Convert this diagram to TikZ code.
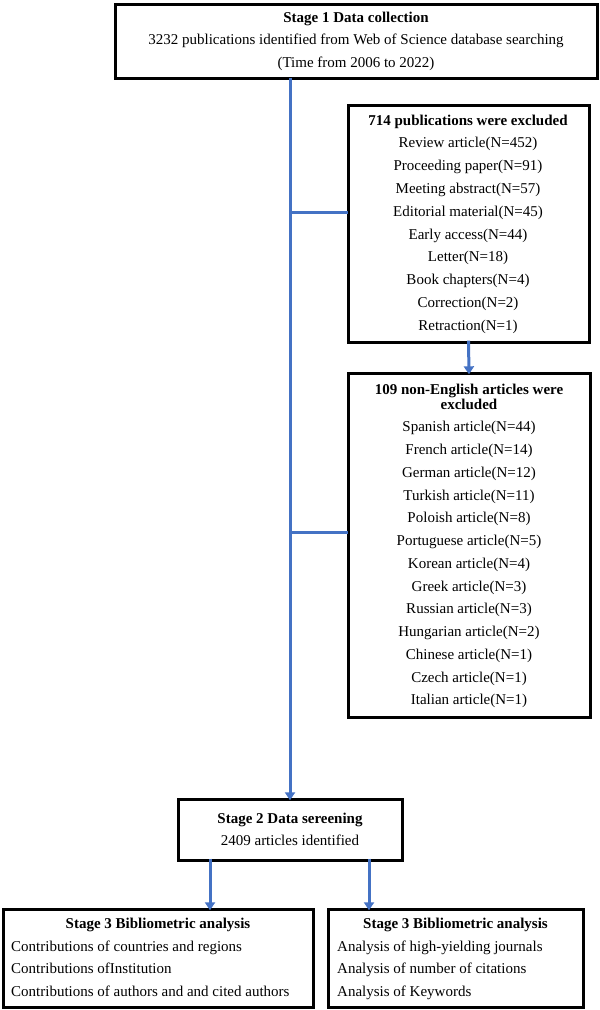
\documentclass[tikz,border=0pt]{standalone}
\usepackage{fontspec}
\setmainfont{Liberation Serif}
\usetikzlibrary{arrows.meta}
\definecolor{flowblue}{RGB}{68,114,196}
\tikzset{
  boxframe/.style={draw=black,line width=3pt,fill=white},
  txt/.style={align=center,inner sep=0pt,anchor=north},
  link/.style={draw=flowblue,line width=3pt},
  arr/.style={link,-{Triangle[width=10pt,length=8pt]}}
}
\begin{document}
\begin{tikzpicture}[x=1pt,y=-1pt]
\useasboundingbox (0,0) rectangle (600,1010);
% boxes
\path[boxframe] (115,4) rectangle (597,78);
\coordinate (s1b) at (290,78);
\path[boxframe] (348,105) rectangle (589,342);
\path[boxframe] (348,373) rectangle (590,717);
\path[boxframe] (178,799) rectangle (402,860);
\path[boxframe] (3,909) rectangle (313,1007);
\path[boxframe] (328,909) rectangle (583,1007);
% nodes for anchors
\node[inner sep=0pt,minimum width=482,minimum height=74] (s1) at (356,41) {};
\node[inner sep=0pt,minimum width=241,minimum height=237] (ex1) at (468.5,223.5) {};
\node[inner sep=0pt,minimum width=242,minimum height=344] (ex2) at (469,545) {};
\node[inner sep=0pt,minimum width=224,minimum height=61] (s2) at (290,829.5) {};
\node[inner sep=0pt,minimum width=310,minimum height=98] (s3a) at (158,958) {};
\node[inner sep=0pt,minimum width=255,minimum height=98] (s3b) at (455.5,958) {};
% texts
\node[txt,font={\fontsize{15}{22.5}\selectfont}] (t1) at (356,11.5)
 {\textbf{Stage 1 Data collection}\\3232 publications identified from Web of Science database searching\\(Time from 2006 to 2022)};
\node[txt,font={\fontsize{15}{22.8}\selectfont}] (t2) at (468,114.5)
 {\textbf{714 publications were excluded}\\Review article(N=452)\\Proceeding paper(N=91)\\Meeting abstract(N=57)\\Editorial material(N=45)\\Early access(N=44)\\Letter(N=18)\\Book chapters(N=4)\\Correction(N=2)\\Retraction(N=1)};
\node[txt,font={\fontsize{15}{22.75}\selectfont}] (t3) at (469,383.5)
 {\textbf{109 non-English articles were}\\[-7.75pt]\textbf{excluded}\\Spanish article(N=44)\\French article(N=14)\\German article(N=12)\\Turkish article(N=11)\\Poloish article(N=8)\\Portuguese article(N=5)\\Korean article(N=4)\\Greek article(N=3)\\Russian article(N=3)\\Hungarian article(N=2)\\Chinese article(N=1)\\Czech article(N=1)\\Italian article(N=1)};
\node[txt,font={\fontsize{15}{22.5}\selectfont}] (t4) at (290,812.5)
 {\textbf{Stage 2 Data sereening}\\2409 articles identified};
\node[txt,font={\fontsize{15}{22.7}\selectfont}] (t5h) at (158,917.5) {\textbf{Stage 3 Bibliometric analysis}};
\node[txt,align=left,anchor=north west,font={\fontsize{15}{22.7}\selectfont}] (t5) at (11,940.5)
 {Contributions of countries and regions\\Contributions ofInstitution\\Contributions of authors and and cited authors};
\node[txt,font={\fontsize{15}{22.7}\selectfont}] (t6h) at (455.5,917.5) {\textbf{Stage 3 Bibliometric analysis}};
\node[txt,align=left,anchor=north west,font={\fontsize{15}{22.7}\selectfont}] (t6) at (337,940.5)
 {Analysis of high-yielding journals\\Analysis of number of citations\\Analysis of Keywords};
% connectors
\coordinate (j1) at (290,212);
\coordinate (j2) at (290,532);
\draw[arr] (s1.south -| s1b) -- ([yshift=-1.5pt]s2.north -| s1b);
\draw[link] (j1) -- (j1 -| ex1.west);
\draw[link] (j2) -- (j2 -| ex2.west);
\draw[arr] ([yshift=1.5pt]ex1.south) -- ([yshift=-1.5pt]ex2.north);
\draw[arr] ([yshift=1.5pt]s2.south -| 210,0) -- ([yshift=-1.5pt]s3a.north -| 210,0);
\draw[arr] ([yshift=1.5pt]s2.south -| 369,0) -- ([yshift=-1.5pt]s3b.north -| 369,0);
\end{tikzpicture}
\end{document}
